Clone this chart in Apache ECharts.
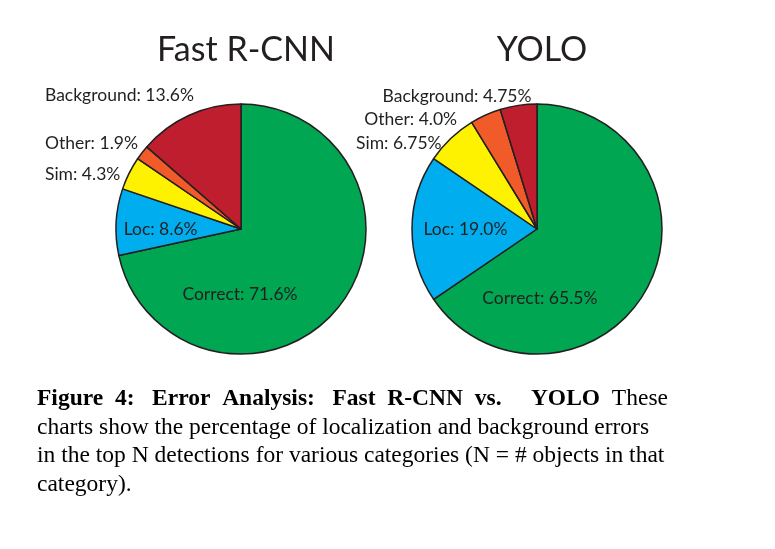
<!DOCTYPE html>
<html>
<head>
<meta charset="utf-8">
<script src="https://cdn.jsdelivr.net/npm/echarts@6/dist/echarts.min.js"></script>
<style>
  html, body { margin: 0; padding: 0; background: #fff; }
  #chart { width: 775px; height: 549px; }
</style>
</head>
<body>
<div id="chart"></div>
<script>
// categories, clockwise from 12 o'clock
const categories = ["Correct", "Loc", "Sim", "Other", "Background"];
const fastRcnnValues = [71.6, 8.6, 4.3, 1.9, 13.6];
const yoloValues = [65.5, 19.0, 6.75, 4.0, 4.75];
const fastRcnnText = ["71.6%", "8.6%", "4.3%", "1.9%", "13.6%"];
const yoloText = ["65.5%", "19.0%", "6.75%", "4.0%", "4.75%"];
const colors = ["#00a651", "#00aeef", "#fff200", "#f15a29", "#be1e2d"];

const labelFont = "Lato";
const inkColor = "#231f20";

// which slices get the label inside
const insideSet = { Correct: true, Loc: true };

function buildData(values, texts) {
  return categories.map((name, i) => ({
    name: name,
    value: values[i],
    pct: texts[i],
    itemStyle: { color: colors[i] },
    label: { position: insideSet[name] ? "inside" : "outside" }
  }));
}

// label nudges (px) per category, for each chart
const fastNudge = {
  Correct: [-52, 24], Loc: [-15, 4], Sim: [0, 4], Other: [0, -6], Background: [0, -14]
};
const yoloNudge = {
  Correct: [-55, 39], Loc: [-6, 0], Sim: [0, 9], Other: [-21, 10], Background: [19, -3]
};

function makeSeries(name, cx, values, texts, nudge, labelExtra) {
  return {
    name: name,
    type: "pie",
    center: [cx, 229],
    radius: 125,
    startAngle: 90,
    clockwise: true,
    avoidLabelOverlap: false,
    itemStyle: { borderColor: "#231f20", borderWidth: 1.5 },
    emphasis: { disabled: true },
    label: Object.assign({
      show: true,
      color: inkColor,
      fontFamily: labelFont,
      fontSize: 17.5,
      formatter: (p) => p.name + ": " + p.data.pct
    }, labelExtra),
    labelLine: { show: false, length: 6, length2: 0 },
    labelLayout: (p) => {
      const n = nudge[categories[p.dataIndex]];
      return { dx: n[0], dy: n[1] };
    },
    data: buildData(values, texts)
  };
}

const chart = echarts.init(document.getElementById("chart"));
const titleStyle = { fontFamily: labelFont, fontSize: 34, fontWeight: "normal", color: inkColor };
const option = {
  animation: false,
  title: [
    { text: "Fast R-CNN", left: 241, top: 28, textAlign: "center", textStyle: titleStyle },
    { text: "YOLO", left: 537, top: 28, textAlign: "center", textStyle: titleStyle }
  ],
  series: [
    makeSeries("Fast R-CNN", 241, fastRcnnValues, fastRcnnText, fastNudge,
      { alignTo: "edge", edgeDistance: 45 }),
    makeSeries("YOLO", 537, yoloValues, yoloText, yoloNudge, {})
  ],
  graphic: [
    {
      type: "text",
      left: 37,
      top: 385,
      style: {
        text: "{b|Figure  4:   Error  Analysis:   Fast  R-CNN  vs.     YOLO}  These\n" +
              "charts show the percentage of localization and background errors\n" +
              "in the top N detections for various categories (N = # objects in that\n" +
              "category).",
        fontFamily: "Liberation Serif",
        fontSize: 23.5,
        lineHeight: 28.5,
        fill: "#000",
        rich: {
          b: { fontFamily: "Liberation Serif", fontSize: 23.5, fontWeight: "bold", lineHeight: 28.5 }
        }
      }
    }
  ]
};
chart.setOption(option);
</script>
</body>
</html>
